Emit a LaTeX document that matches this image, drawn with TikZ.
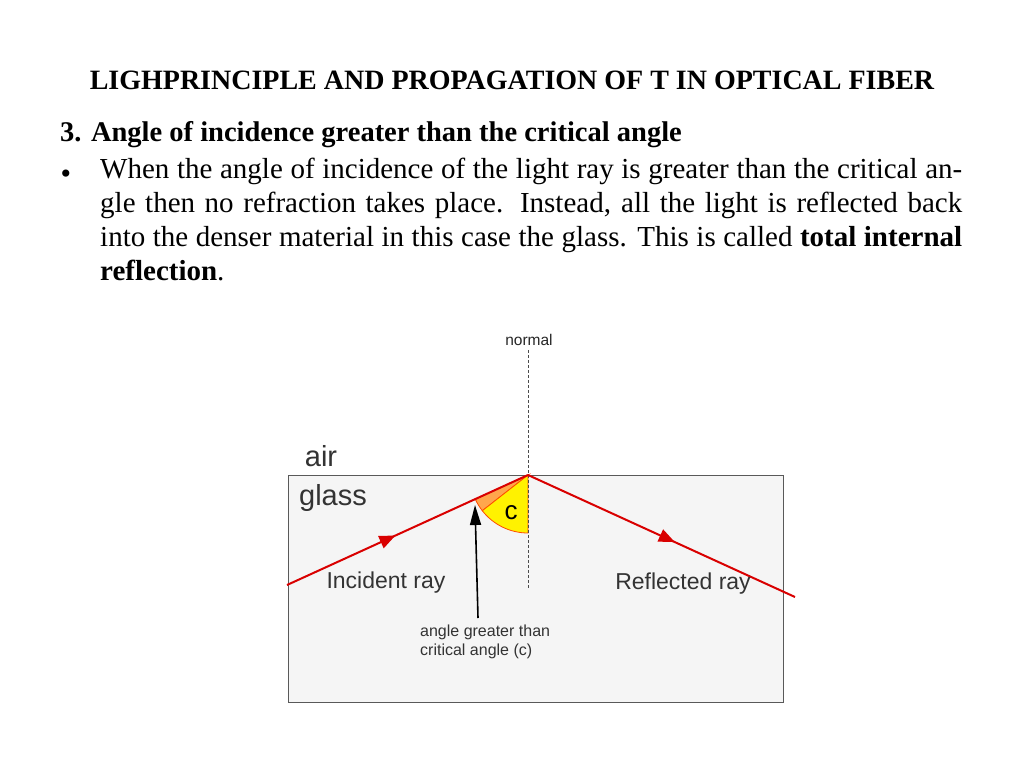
\documentclass[tikz,border=0pt]{standalone}
\usepackage{fontspec}
\setmainfont{Liberation Serif}
\newfontfamily\dsans{Liberation Sans}
\usetikzlibrary{decorations.markings,arrows.meta}
\begin{document}
\begin{tikzpicture}[x=1pt,y=-1pt,
  ray/.style={red!85!black,line width=2pt,postaction={decorate},decoration={markings,mark=at position #1 with {\arrow{Triangle[length=16pt,width=13pt]}}}},
  lbl/.style={font=\dsans,inner sep=0pt}]
\useasboundingbox[fill=white] (0,0) rectangle (1024,768);
\node[font=\fontsize{28}{32}\selectfont\bfseries] (title) at (512,80) {LIGHPRINCIPLE AND PROPAGATION OF T IN OPTICAL FIBER};
\node[font=\fontsize{28.5}{32}\selectfont\bfseries,anchor=west,inner sep=0pt] (h3) at (60,135) {3. Angle of incidence greater than the critical angle};
\node[font=\fontsize{30}{32}\selectfont,inner sep=0pt] (bul) at (66,177) {•};
\node[anchor=north west,inner sep=0pt,text width=862pt,align=justify,font=\fontsize{29}{34}\selectfont] (para) at (100,158) {When the angle of incidence of the light ray is greater than the critical angle then no refraction takes place. Instead, all the light is reflected back into the denser material in this case the glass. This is called \textbf{total internal reflection}.};
% glass box
\node[draw=gray!70!black,line width=1.2pt,fill=gray!8,minimum width=495pt,minimum height=227pt,anchor=north west,inner sep=0pt] (box) at (288,475) {};
\coordinate (P) at (528,475);
\coordinate (A) at (287,585);
\coordinate (B) at (795,597);
% angle sectors
\filldraw[fill=orange!70,draw=orange!60!red,line width=0.8pt] (P) -- ++(-204.5:58) arc[start angle=-204.5,end angle=-218,radius=58] -- cycle;
\filldraw[fill=yellow,draw=orange!60!red,line width=0.8pt] (P) -- ++(-218:58) arc[start angle=-218,end angle=-270,radius=58] -- cycle;
\draw[densely dashed,gray!60!black,line width=1pt] (528,350) -- (528,588);
\node[lbl,font=\dsans\fontsize{15.5}{18}\selectfont,text=gray!30!black] (nrm) at (529,340) {normal};
\draw[ray=0.45] (A) -- (P);
\draw[ray=0.55] (P) -- (B);
\node[lbl,font=\dsans\fontsize{29}{32}\selectfont,text=black!80] (air) at (321,456) {air};
\node[lbl,font=\dsans\fontsize{29}{32}\selectfont,text=black!80] (gls) at (333,498) {glass};
\node[lbl,font=\dsans\fontsize{26}{30}\selectfont] (c) at (511,513) {c};
\node[lbl,font=\dsans\fontsize{23}{26}\selectfont,text=black!80] (inc) at (386,583) {Incident ray};
\node[lbl,font=\dsans\fontsize{23}{26}\selectfont,text=black!80] (refl) at (683,584) {Reflected ray};
\node[lbl,font=\dsans\fontsize{16}{19}\selectfont,align=left,anchor=north west,text=black!80] (agt) at (420,625) {angle greater than\\critical angle (c)};
\coordinate (tip) at (475,505);
\draw[-{Triangle[length=20pt,width=11pt]},line width=1.6pt] (478,618) -- (tip);
\end{tikzpicture}
\end{document}
